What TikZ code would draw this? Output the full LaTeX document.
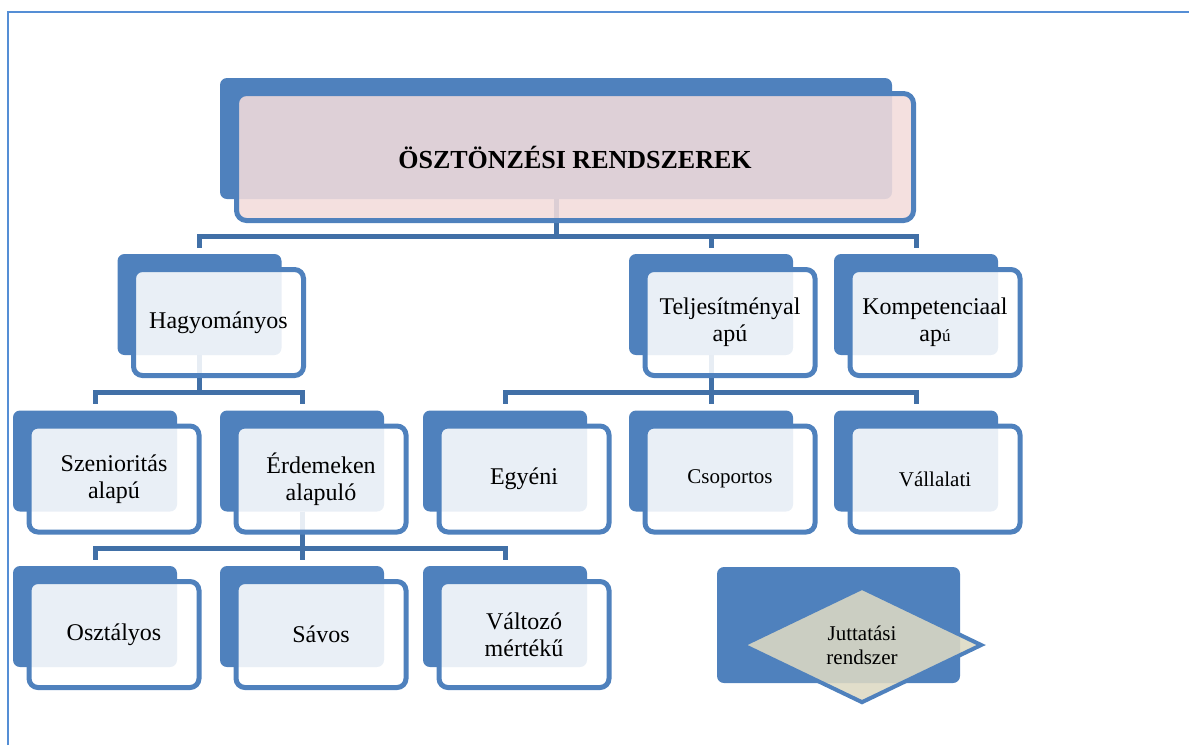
\documentclass[tikz,border=0pt]{standalone}
\usepackage{fontspec}
\setmainfont{Liberation Serif}
\usetikzlibrary{shapes.geometric}
\definecolor{boxblue}{RGB}{79,129,189}
\definecolor{linkblue}{RGB}{65,112,167}
\definecolor{frameblue}{RGB}{85,142,213}
\definecolor{titlepink}{RGB}{242,220,219}
\definecolor{diamondtan}{RGB}{221,217,195}
\begin{document}
\begin{tikzpicture}[x=1pt, y=-1pt,
    backbox/.style={fill=boxblue, rounded corners=7pt, minimum width=164pt, minimum height=101pt, inner sep=0pt},
    frontbox/.style={draw=boxblue, line width=5pt, fill=white, fill opacity=0.88, text opacity=1, rounded corners=9pt,
      minimum width=170pt, minimum height=106pt, inner sep=0pt, align=center, font=\fontsize{24}{27}\selectfont},
    link/.style={draw=linkblue, line width=5pt}]
    \useasboundingbox (0,0) rectangle (1189,745);
    \draw[frameblue, line width=1.5pt] (8,745) -- (8,12) -- (1189,12);
    % back boxes
    \node[backbox, minimum width=672pt, minimum height=121pt] (rendB) at (556,138.5) {};
    \node[backbox] (hagyB) at (199.5,304.5) {};
    \node[backbox] (teljB) at (711,304.5) {};
    \node[backbox] (kompB) at (916,304.5) {};
    \node[backbox] (szenB) at (95,461) {};
    \node[backbox] (erdB) at (302,461) {};
    \node[backbox] (egyB) at (505,461) {};
    \node[backbox] (csopB) at (711,461) {};
    \node[backbox] (vallB) at (916,461) {};
    \node[backbox] (osztB) at (95,616.5) {};
    \node[backbox] (savB) at (302,616.5) {};
    \node[backbox] (valtB) at (505,616.5) {};
    \node[backbox, minimum width=243pt, minimum height=116pt] (juttB) at (838.5,625) {};
    % connectors
    \draw[link] (rendB.south) -- ++(0,37) -| ([yshift=6pt]hagyB.north);
    \draw[link] (rendB.south) -- ++(0,37) -| ([yshift=6pt]teljB.north);
    \draw[link] (rendB.south) -- ++(0,37) -| ([yshift=6pt]kompB.north);
    \draw[link] (hagyB.south) -- ++(0,37) -| ([yshift=6pt]szenB.north);
    \draw[link] (hagyB.south) -- ++(0,37) -| ([yshift=6pt]erdB.north);
    \draw[link] (teljB.south) -- ++(0,37) -| ([yshift=6pt]egyB.north);
    \draw[link] (teljB.south) -- ([yshift=6pt]csopB.north);
    \draw[link] (teljB.south) -- ++(0,37) -| ([yshift=6pt]vallB.north);
    \draw[link] (erdB.south) -- ++(0,37) -| ([yshift=6pt]osztB.north);
    \draw[link] (erdB.south) -- ++(0,37) -| ([yshift=6pt]savB.north);
    \draw[link] (erdB.south) -- ++(0,37) -| ([yshift=6pt]valtB.north);
    % front boxes
    \node[frontbox, fill=titlepink, minimum width=677pt, minimum height=127pt, rounded corners=10pt,
      font=\bfseries\fontsize{26}{30}\selectfont] (rend) at ([shift={(19,18.5)}]rendB.center) {ÖSZTÖNZÉSI RENDSZEREK};
    \node[frontbox] (hagy) at ([shift={(19,18)}]hagyB.center) {Hagyományos};
    \node[frontbox] (telj) at ([shift={(19,18)}]teljB.center) {Teljesítményal\\apú};
    \node[frontbox] (komp) at ([shift={(19,18)}]kompB.center) {Kompetenciaal\\ap{\fontsize{17}{27}\selectfont ú}};
    \node[frontbox] (szen) at ([shift={(19,18)}]szenB.center) {Szenioritás\\alapú};
    \node[frontbox] (erd) at ([shift={(19,18)}]erdB.center) {Érdemeken\\alapuló};
    \node[frontbox] (egy) at ([shift={(19,18)}]egyB.center) {Egyéni};
    \node[frontbox, font=\fontsize{21}{24}\selectfont] (csop) at ([shift={(19,18)}]csopB.center) {Csoportos};
    \node[frontbox, font=\fontsize{21}{24}\selectfont] (vall) at ([shift={(19,18)}]vallB.center) {Vállalati};
    \node[frontbox] (oszt) at ([shift={(19,18)}]osztB.center) {Osztályos};
    \node[frontbox] (sav) at ([shift={(19,18)}]savB.center) {Sávos};
    \node[frontbox] (valt) at ([shift={(19,18)}]valtB.center) {Változó\\mértékű};
    \node[diamond, draw=boxblue, line width=4pt, fill=diamondtan, fill opacity=0.88, text opacity=1,
      minimum width=240pt, minimum height=116pt, inner sep=0pt, align=center,
      font=\fontsize{21}{24}\selectfont] (jutt) at ([shift={(23.5,20)}]juttB.center) {Juttatási\\rendszer};
\end{tikzpicture}
\end{document}
